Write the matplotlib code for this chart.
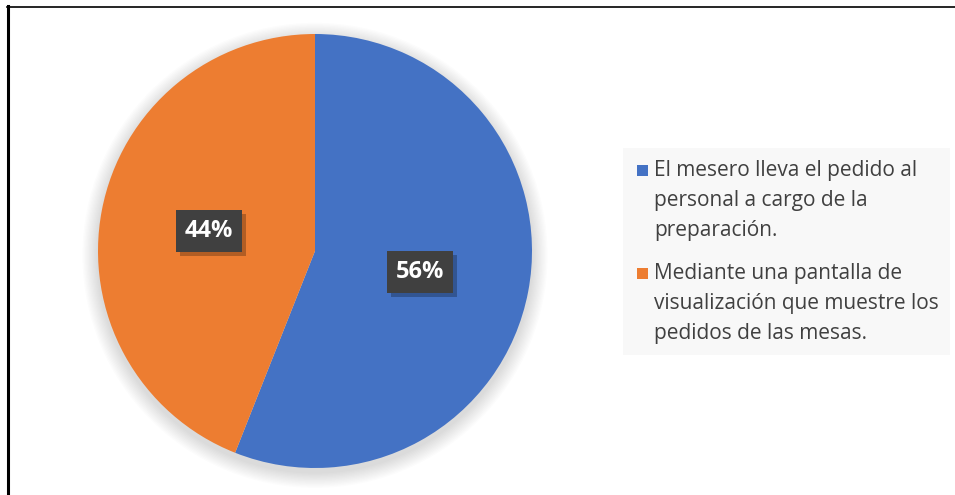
import matplotlib
matplotlib.use("Agg")
import matplotlib.pyplot as plt
from matplotlib.patches import Rectangle, Circle
from matplotlib.lines import Line2D
import matplotlib.patheffects as pe

categories = ["El mesero lleva el pedido al\npersonal a cargo de la\npreparación.",
              "Mediante una pantalla de\nvisualización que muestre los\npedidos de las mesas."]
values = [56, 44]
colors = ["#4472C4", "#ED7D31"]

plt.rcParams['font.family'] = ['Open Sans', 'DejaVu Sans']

fig = plt.figure(figsize=(9.55, 4.95), dpi=100)
W, H = 955, 495

# border lines (left and top)
fig.add_artist(Line2D([7.5 / W, 7.5 / W], [0, 1 - 6 / H], transform=fig.transFigure, color="black", lw=2.2))
fig.add_artist(Line2D([7 / W, 1], [1 - 6.5 / H, 1 - 6.5 / H], transform=fig.transFigure, color="black", lw=1.2))

cx, cy, r = 315, 251, 217
size = 2 * r + 60
ax = fig.add_axes([(cx - size / 2) / W, (H - cy - size / 2) / H, size / W, size / H])
ax.axis("off")

# soft shadow
for i in range(12):
    ax.add_patch(Circle((0.0, -0.02), 1.0 + 0.006 * (12 - i), color="black", alpha=0.012, lw=0, zorder=0))

wedges, _ = ax.pie(values, colors=colors, startangle=90, counterclock=False, radius=1.0,
                   wedgeprops=dict(linewidth=0))
for w in wedges:
    w.set_zorder(2)
ax.set_xlim(-size / 2 / r, size / 2 / r)
ax.set_ylim(-size / 2 / r, size / 2 / r)
ax.set_aspect("equal")

label_pos = [(420, 272), (209, 231)]
for v, (lx, ly) in zip(values, label_pos):
    x = (lx - cx) / r
    y = -(ly - cy) / r
    t = ax.text(x, y, f"{v}%", ha="center", va="center", fontsize=17, fontweight="bold",
                color="white", zorder=4,
                bbox=dict(boxstyle="square,pad=0.38", fc="#404040", ec="none"))
    t.get_bbox_patch().set_path_effects([
        pe.SimplePatchShadow(offset=(3, -3), shadow_rgbFace="black", alpha=0.25),
        pe.Normal()])

# legend background
fig.add_artist(Rectangle((623 / W, 1 - 355 / H), (950 - 623) / W, (355 - 148) / H,
                         transform=fig.transFigure, fc="#F8F8F8", ec="none", zorder=0))

legend_tops = [170, 273]
for cat, col, ty in zip(categories, colors, legend_tops):
    fig.add_artist(Rectangle((637 / W, 1 - (ty + 6) / H), 11 / W, 11 / H,
                             transform=fig.transFigure, fc=col, ec="none"))
    fig.text(654 / W, 1 - (ty - 10) / H, cat, ha="left", va="top", fontsize=15,
             color="#404040", linespacing=1.57)

fig.savefig("out.png", dpi=100)
